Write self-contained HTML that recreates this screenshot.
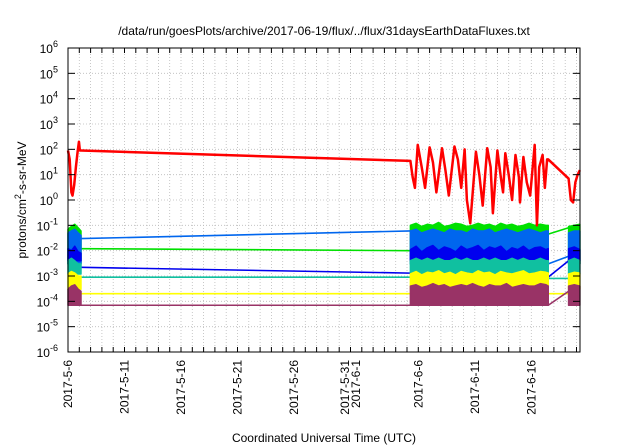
<!DOCTYPE html>
<html><head><meta charset="utf-8">
<style>
body{margin:0;background:#fff;}
svg{display:block;font-family:"Liberation Sans",sans-serif;}
</style></head>
<body>
<svg id="chart" width="640" height="448" viewBox="0 0 640 448" xmlns="http://www.w3.org/2000/svg">
<text x="324" y="35" font-size="12" text-anchor="middle" fill="#000">/data/run/goesPlots/archive/2017-06-19/flux/../flux/31daysEarthDataFluxes.txt</text>
<text transform="translate(26,200) rotate(-90)" font-size="12" text-anchor="middle" fill="#000">protons/cm<tspan dy="-5" font-size="9">2</tspan><tspan dy="5">-s-sr-MeV</tspan></text>
<text x="324" y="442" font-size="12" text-anchor="middle" fill="#000">Coordinated Universal Time (UTC)</text>
<g id="grid"></g><g id="marks"></g><g id="axes"></g>
</svg>
<script>
// ---- data ----
const yTickExps=[-6,-5,-4,-3,-2,-1,0,1,2,3,4,5,6];
const xTickLabels=["2017-5-6","2017-5-11","2017-5-16","2017-5-21","2017-5-26","2017-5-31\n2017-6-1","2017-6-6","2017-6-11","2017-6-16"];
const xTickDays=[0,5,10,15,20,25,31,36,41];
const seg1T=[0,0.3,0.6,0.9,1.15];
const seg2T=[30.3,30.8,31.3,31.8,32.3,32.8,33.3,33.8,34.3,34.8,35.3,35.8,36.3,36.8,37.3,37.8,38.3,38.8,39.3,39.8,40.3,40.8,41.3,41.8,42.3,42.5];
const seg3T=[44.3,44.8,45.3];
const greenTop1=[0.07,0.09,0.11,0.08,0.06];
const greenTop2=[0.1,0.12,0.09,0.11,0.1,0.13,0.09,0.1,0.12,0.11,0.09,0.1,0.12,0.1,0.11,0.09,0.12,0.1,0.11,0.09,0.1,0.12,0.1,0.11,0.1,0.1];
const greenTop3=[0.09,0.1,0.11];
const blueTop1=[0.05,0.06,0.07,0.05,0.04];
const blueTop2=[0.06,0.07,0.05,0.06,0.07,0.06,0.05,0.07,0.06,0.06,0.05,0.07,0.06,0.06,0.07,0.05,0.06,0.07,0.06,0.05,0.06,0.07,0.06,0.05,0.06,0.06];
const blueTop3=[0.05,0.06,0.06];
const dblueTop1=[0.012,0.01,0.015,0.009,0.008];
const dblueTop2=[0.011,0.015,0.009,0.013,0.016,0.01,0.014,0.012,0.009,0.015,0.011,0.013,0.016,0.01,0.014,0.012,0.015,0.009,0.013,0.011,0.015,0.01,0.013,0.014,0.011,0.012];
const dblueTop3=[0.012,0.014,0.011];
const dblueBot=0.004;
const tealTop1=[0.004,0.005,0.004,0.003,0.003];
const tealTop2=[0.004,0.005,0.004,0.005,0.004,0.005,0.004,0.004,0.005,0.004,0.005,0.004,0.004,0.005,0.004,0.005,0.004,0.004,0.005,0.004,0.005,0.004,0.004,0.005,0.004,0.004];
const tealTop3=[0.004,0.005,0.004];
const yellowTop1=[0.0012,0.0015,0.0013,0.001,0.001];
const yellowTop2=[0.0012,0.0015,0.0011,0.0014,0.0013,0.0016,0.0012,0.0014,0.0011,0.0015,0.0013,0.0012,0.0016,0.0013,0.0014,0.0011,0.0015,0.0013,0.0012,0.0014,0.0016,0.0012,0.0013,0.0015,0.0014,0.0013];
const yellowTop3=[0.0012,0.0014,0.0013];
const maroonTop1=[0.0003,0.0004,0.00045,0.0003,0.00025];
const maroonTop2=[0.0004,0.00045,0.00035,0.0004,0.0005,0.0004,0.00045,0.00035,0.0004,0.00045,0.0004,0.0005,0.0004,0.00035,0.00045,0.0004,0.0004,0.0005,0.00035,0.0004,0.00045,0.0004,0.0004,0.0005,0.00045,0.0004];
const maroonTop3=[0.0004,0.00045,0.0004];
const maroonBot=0.00007;
const connBlue=[1.15,0.03,30.3,0.06,42.5,0.003,44.3,0.006];
const connGreen=[1.15,0.012,30.3,0.01,42.5,0.045,44.3,0.08];
const connDblue=[1.15,0.0022,30.3,0.0013,42.5,0.0009,44.3,0.004];
const connTeal=[1.15,0.0009,30.3,0.0009,42.5,0.0008,44.3,0.0008];
const connYellow=[1.15,0.0002,30.3,0.0002,42.5,0.0002,44.3,0.0002];
const connMaroon=[1.15,0.00007,30.3,0.00007,42.5,0.00007,44.3,0.00025];
const redT=[0,0.15,0.3,0.4,0.55,0.7,0.85,0.97,1.05,1.15,30.3,30.5,30.7,30.95,31.3,31.6,32.0,32.3,32.6,33.1,33.4,33.7,34.2,34.5,34.8,35.1,35.3,35.6,36.1,36.4,36.7,37.1,37.4,37.6,38.0,38.3,38.5,38.7,39.0,39.3,39.6,39.9,40.0,40.3,40.6,40.9,41.3,41.5,41.7,42.0,42.2,42.4,42.5,44.3,44.5,44.7,44.9,45.1,45.3];
const redV=[90,40,2,1.5,4,20,80,200,90,90,35,8,3,150,20,3,120,30,2,110,15,1.5,130,40,3,100,1,0.12,80,10,0.6,110,20,0.3,90,8,2,70,10,1,60,8,0.8,50,5,1.5,150,0.1,20,60,3,40,40,7,1,0.8,5,10,15];

// ---- scales ----
const L=68,R=580,T=48,B=352;
const xs=d=>L+d*11.3;
const ys=v=>B-(Math.log10(v)+6)*(B-T)/12;
const NS="http://www.w3.org/2000/svg";
function mk(tag,parent,attrs){const e=document.createElementNS(NS,tag);for(const k in attrs)e.setAttribute(k,attrs[k]);parent.appendChild(e);return e;}
const grid=document.getElementById('grid'),marks=document.getElementById('marks'),axes=document.getElementById('axes');

for(let d=1;d<=45;d++){const g=mk('line',grid,{x1:xs(d),x2:xs(d),y1:T,y2:B,stroke:'#bbb','stroke-width':0.8,'stroke-dasharray':'1,2'});

}
yTickExps.forEach(e=>{if(e===-6||e===6)return;const g=mk('line',grid,{x1:L,x2:R,y1:ys(Math.pow(10,e)),y2:ys(Math.pow(10,e)),stroke:'#bbb','stroke-width':0.8,'stroke-dasharray':'1,2'});

});

function band(name,color,T1,V1,bot){
  let pts=T1.map((t,i)=>xs(t)+','+ys(V1[i]));
  pts.push(xs(T1[T1.length-1])+','+ys(bot));pts.push(xs(T1[0])+','+ys(bot));
  const p=mk('polygon',marks,{points:pts.join(' '),fill:color,stroke:color,'stroke-width':1.5,'stroke-linejoin':'round'});
  
  
}
function connLine(name,color,arr){
  for(let k=0;k<arr.length;k+=4){
    const l=mk('line',marks,{x1:xs(arr[k]),y1:ys(arr[k+1]),x2:xs(arr[k+2]),y2:ys(arr[k+3]),stroke:color,'stroke-width':1.6});
    
    
  }
}
const series=[
 ['green','#00e000',[greenTop1,greenTop2,greenTop3],0.003,connGreen],
 ['light-blue','#0066ee',[blueTop1,blueTop2,blueTop3],0.003,connBlue],
 ['dark-blue','#0000ee',[dblueTop1,dblueTop2,dblueTop3],dblueBot,connDblue],
 ['teal','#10c0a0',[tealTop1,tealTop2,tealTop3],0.0012,connTeal],
 ['yellow','#ffff00',[yellowTop1,yellowTop2,yellowTop3],0.0003,connYellow],
 ['maroon','#993366',[maroonTop1,maroonTop2,maroonTop3],maroonBot,connMaroon]
];
const segTs=[seg1T,seg2T,seg3T];
series.forEach(s=>{
  connLine(s[0]+'-connector',s[1],s[4]);
  s[2].forEach((vals,i)=>band(s[0]+'-flux-band',s[1],segTs[i],vals,s[3]));
});
const rp=mk('polyline',marks,{points:redT.map((t,i)=>xs(t)+','+ys(redV[i])).join(' '),fill:'none',stroke:'#ff0000','stroke-width':2.5,'stroke-linejoin':'round'});



const fr=mk('rect',axes,{x:L,y:T,width:R-L,height:B-T,fill:'none',stroke:'#000','stroke-width':1});


for(let d=0;d<=45;d++){
  mk('line',axes,{x1:xs(d),x2:xs(d),y1:B,y2:B-5,stroke:'#000'});
  mk('line',axes,{x1:xs(d),x2:xs(d),y1:T,y2:T+5,stroke:'#000'});
}
yTickExps.forEach(e=>{
  const y=ys(Math.pow(10,e));
  mk('line',axes,{x1:L,x2:L+7,y1:y,y2:y,stroke:'#000'});
  mk('line',axes,{x1:R,x2:R-7,y1:y,y2:y,stroke:'#000'});
  const t=mk('text',axes,{x:58,y:y+5,'font-size':12,'text-anchor':'end',fill:'#000'});
  
  
  t.appendChild(document.createTextNode('10'));
  const s=mk('tspan',t,{dy:-6,'font-size':9});s.textContent=String(e);
});
xTickDays.forEach((d,i)=>{
  const lines=xTickLabels[i].split('\n');
  const x=xs(d);
  lines.forEach((ln,j)=>{
    const off=(j-(lines.length-1)/2)*11;
    const t=mk('text',axes,{x:0,y:0,'font-size':12,'text-anchor':'end',fill:'#000',transform:`translate(${x+4+off},360) rotate(-90)`});
    
    
    t.textContent=ln;
  });
});
</script>
</body></html>
